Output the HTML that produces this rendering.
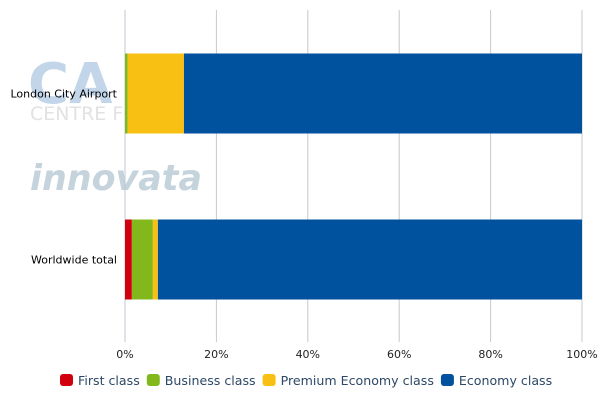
<!DOCTYPE html>
<html><head><meta charset="utf-8"><style>
body{margin:0;background:#fff;width:600px;height:400px;overflow:hidden;font-family:"DejaVu Sans",sans-serif}
text{font-family:"DejaVu Sans",sans-serif}
</style></head><body>
<svg id="c" width="600" height="400" xmlns="http://www.w3.org/2000/svg">
<g>
<text x="28" y="103" font-size="56" font-weight="bold" fill="#c3d6e9">CA</text>
<text x="30" y="120" font-size="19" fill="#e2e2e2">CENTRE FO</text>
<text x="30" y="190" font-size="36" font-weight="bold" font-style="italic" fill="#c5d3dd" textLength="172" lengthAdjust="spacingAndGlyphs">innovata</text>
</g>
</svg>
<script>
const categories=["London City Airport","Worldwide total"];
const seriesNames=["First class","Business class","Premium Economy class","Economy class"];
const colors=["#d0000f","#82b81c","#f8c012","#00519e"];
const first=[0,1.5];
const business=[0.6,4.6];
const premium=[12.3,1.1];
const economy=[87.1,92.8];
const ticks=[0,20,40,60,80,100];
const series=[first,business,premium,economy];
const svg=document.getElementById('c');
const NS="http://www.w3.org/2000/svg";
const x0=125,x1=582,yTop=10,yBot=342;
const xs=v=>x0+(x1-x0)*v/100;
const band=(yBot-yTop)/categories.length;
function mk(t,a){const e=document.createElementNS(NS,t);for(const k in a)e.setAttribute(k,a[k]);svg.appendChild(e);return e;}
ticks.forEach((t,i)=>{
 const g=mk('line',{x1:xs(t),x2:xs(t),y1:yTop,y2:yBot,stroke:i==0?'#c0c8d0':'#c8c8c8','stroke-width':1});
 
 
 const tx=mk('text',{x:xs(t),y:358,'font-size':11,'text-anchor':'middle',fill:'#222'});
 tx.textContent=t+'%';
 
 
});
categories.forEach((c,i)=>{
 const yc=yTop+band*(i+0.5)+0.5;
 const h=80;
 let acc=0;
 series.forEach((s,j)=>{
  const r=mk('rect',{x:xs(acc),y:yc-h/2,width:xs(acc+s[i])-xs(acc),height:h,fill:colors[j]});
  
  
  acc+=s[i];
 });
 const l=mk('text',{x:117,y:yc+4,'font-size':11,'text-anchor':'end',fill:'#000'});
 l.textContent=c;
 
 
});
let lx=60;
seriesNames.forEach((n,j)=>{
 const r=mk('rect',{x:lx,y:374,width:13,height:12,rx:3,fill:colors[j]});
 
 
 const t=mk('text',{x:lx+18,y:385,'font-size':12.6,fill:'#2d4866'});
 t.textContent=n;
 
 
 lx+=18+t.getComputedTextLength()+7;
});
</script>
</body></html>
